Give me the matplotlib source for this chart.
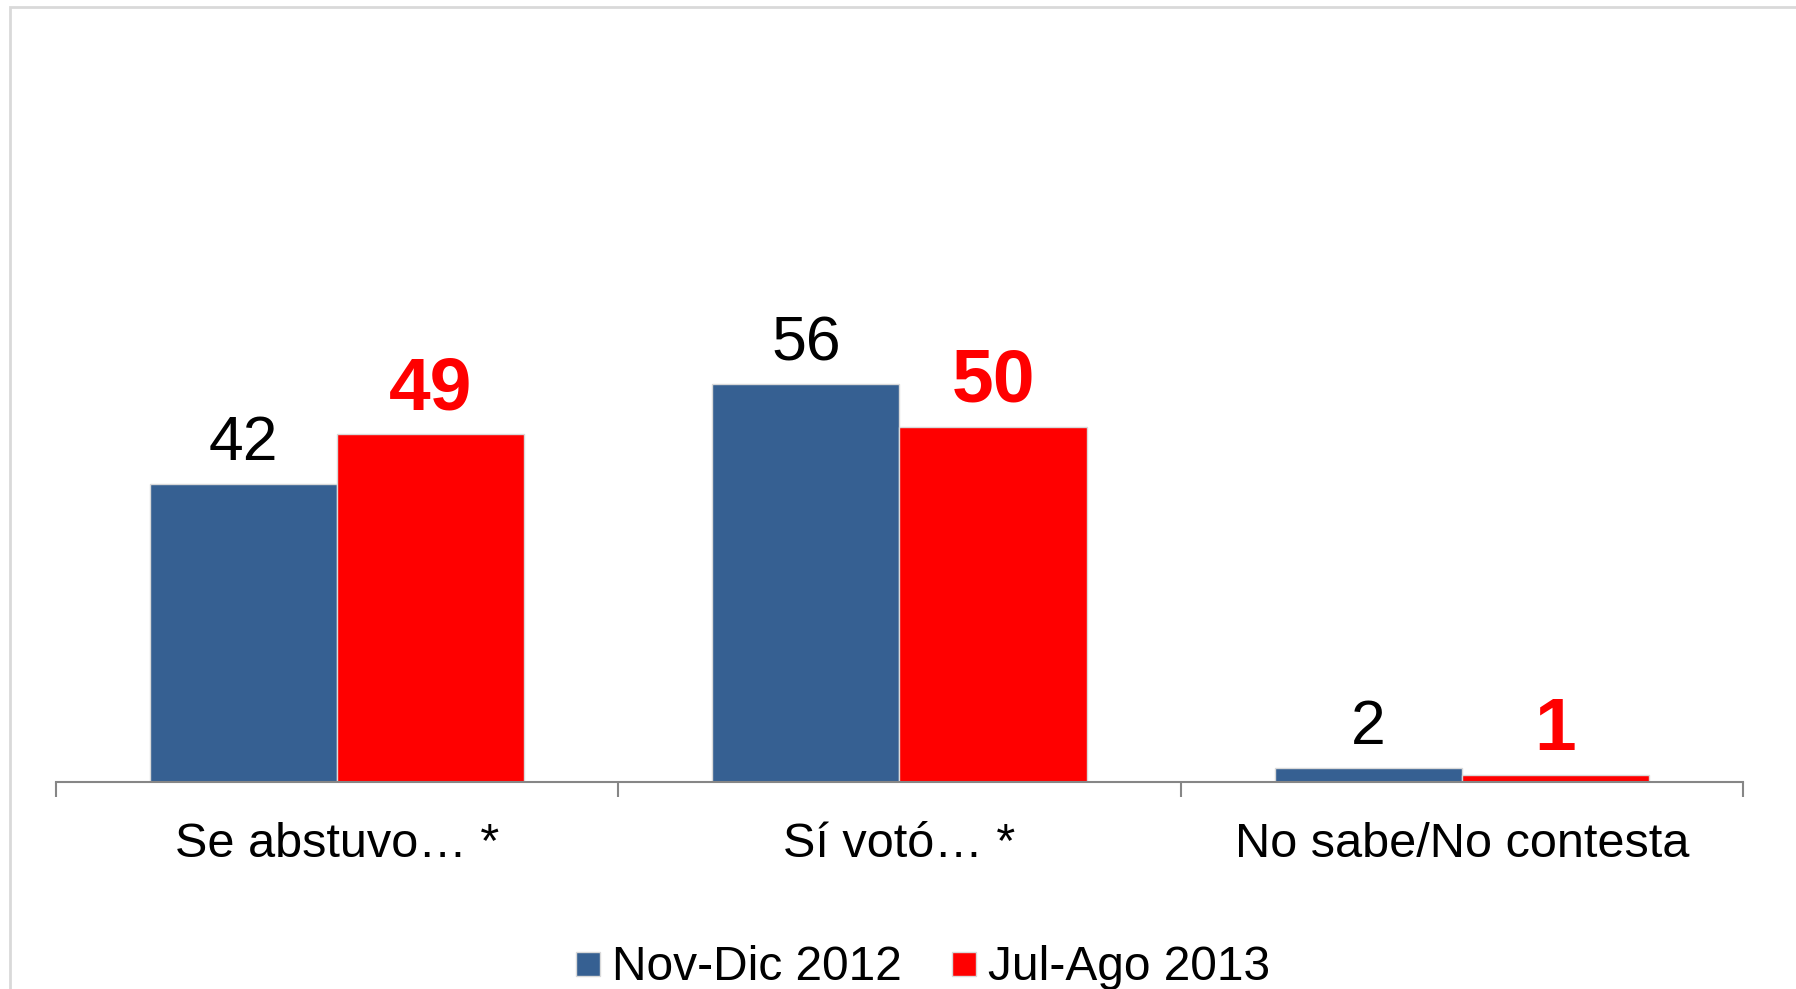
import numpy as np
import matplotlib.pyplot as plt
from matplotlib.patches import Rectangle
from matplotlib.lines import Line2D

plt.rcParams['font.family'] = ['Liberation Sans', 'DejaVu Sans']

# ── Données ──────────────────────────────────────────────
categorias = ["Se abstuvo… *", "Sí votó… *", "No sabe/No contesta"]
nov_dic_2012 = [42, 56, 2]
jul_ago_2013 = [49, 50, 1]
series = ["Nov-Dic 2012", "Jul-Ago 2013"]

BLUE = "#366092"
RED = "#FF0000"
EDGE = "#D9D9D9"

W, H = 1796, 989
fig = plt.figure(figsize=(W / 100, H / 100), dpi=100)

# cadre gris clair autour du graphique
fig.patches.append(Rectangle((10 / W, 1 - 7 / H - 2), 2, 2,
                             transform=fig.transFigure, fill=False,
                             edgecolor=EDGE, linewidth=2, clip_on=False))

ax = fig.add_axes([56 / W, 1 - 782 / H, 1687 / W, 710 / H])

x = np.arange(len(categorias))
w = 0.333
b1 = ax.bar(x - w / 2, nov_dic_2012, w, color=BLUE, edgecolor=EDGE, linewidth=1)
b2 = ax.bar(x + w / 2, jul_ago_2013, w, color=RED, edgecolor=EDGE, linewidth=1)

for bar, val in zip(b1, nov_dic_2012):
    ax.annotate(f"{val}", (bar.get_x() + bar.get_width() / 2, val),
                xytext=(0, 17), textcoords="offset points",
                ha="center", va="baseline", fontsize=45, color="black")
for bar, val in zip(b2, jul_ago_2013):
    ax.annotate(f"{val}", (bar.get_x() + bar.get_width() / 2, val),
                xytext=(0, 18), textcoords="offset points",
                ha="center", va="baseline", fontsize=54, color=RED,
                fontweight="bold")

ax.set_xlim(-0.5, len(categorias) - 0.5)
ax.set_ylim(0, 100)
ax.set_yticks([])
for s in ["top", "right", "left"]:
    ax.spines[s].set_visible(False)
ax.spines["bottom"].set_color("#868686")
ax.spines["bottom"].set_linewidth(1.5)

ax.set_xticks(x)
ax.set_xticklabels(categorias, fontsize=35)
ax.tick_params(axis="x", which="major", length=0, pad=29)
ax.set_xticks(np.arange(len(categorias) + 1) - 0.5, minor=True)
ax.tick_params(axis="x", which="minor", length=11, width=1.5,
               color="#868686", direction="out")

handles = [Line2D([], [], marker="s", linestyle="none", markersize=17,
                  markerfacecolor=c, markeredgecolor=EDGE)
           for c in (BLUE, RED)]
fig.legend(handles, series, loc="center", bbox_to_anchor=(922 / W, 1 - 968 / H),
           ncol=2, frameon=False, fontsize=34.5, handlelength=0.6,
           handletextpad=0.2, columnspacing=1.0, borderpad=0)

plt.savefig("out.png", dpi=100)
